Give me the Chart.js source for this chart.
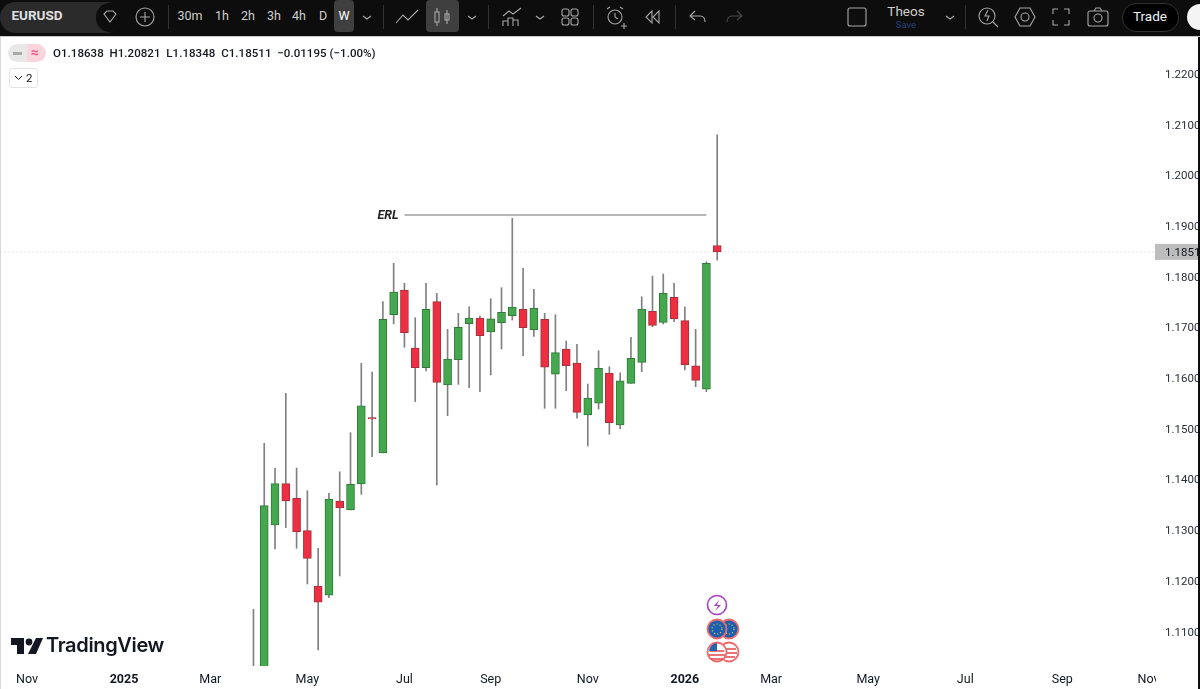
<!DOCTYPE html>
<html>
<head>
<meta charset="utf-8">
<title>EURUSD W</title>
<script src="https://cdn.jsdelivr.net/npm/chart.js@4"></script>
<style>
  html, body { margin: 0; padding: 0; background: #fff; overflow: hidden; }
  body { position: relative; width: 1200px; height: 689px; font-family: Roboto, sans-serif; filter: blur(.35px); }
  #bar { position: absolute; left: 0; top: 0; width: 1200px; height: 36px; background: #0d0d0d; border-bottom: 1px solid #c8c8c8; color: #cfcfcf; }
  #bar span, #bar i, #bar svg { position: absolute; }
  #bar span { font-size: 12.5px; top: 8px; transform: translateX(-50%); }
  #bar svg { top: 5px; width: 24px; height: 24px; fill: none; stroke: #a8a8a8; stroke-width: 1.1; }
  #bar i { background: #3f3f3f; border-radius: 4px; top: 0; height: 32px; }
  #bar b { position: absolute; top: 5px; width: 1px; height: 24px; background: #333; }
  #wrap { position: absolute; left: 0; top: 37px; width: 1198px; height: 652px; }
  #edge { position: absolute; left: 1198px; top: 37px; width: 2px; height: 652px; background: #0d0d0d; }
  #left { position: absolute; left: 0; top: 37px; width: 1px; height: 652px; background: #d8d8d8; }
  .abs { position: absolute; }
  #ohlc { left: 53px; top: 46px; font-size: 11.5px; font-weight: 500; color: #131722; white-space: nowrap; letter-spacing: .05px; }
  #pill { left: 8px; top: 44px; width: 38px; height: 18px; border-radius: 9px; background: linear-gradient(90deg, #e8e8e8 50%, #fbd5de 50%); color: #f0577f; font-size: 14px; font-weight: 700; line-height: 17px; text-indent: 23px; }
  #pill::before { content: ''; position: absolute; left: 5px; top: 8px; width: 9px; height: 3px; background: #a8a8a8; }
  #fold { left: 9px; top: 68px; width: 27px; height: 18px; border: 1px solid #e4e4e4; border-radius: 3px; font-size: 11.5px; line-height: 18px; color: #131722; text-indent: 16px; }
  #logoText { left: 46px; top: 633px; font-family: Inter, sans-serif; font-size: 20px; font-weight: 600; color: #131722; letter-spacing: -.35px; }
</style>
</head>
<body>
<div id="bar">
  <i style="left:0;top:2px;width:122px;height:31px;border-radius:16px;background:#2b2b2b"></i>
  <i style="left:96px;top:3px;width:28px;height:29px;border-radius:15px;background:#0d0d0d"></i>
  <span style="left:37px;font-weight:700;font-size:13.5px;top:7px;color:#e0e0e0">EURUSD</span>
  <svg style="left:98px" viewBox="0 0 24 24"><path d="M6 9l3-3h6l3 3-6 8z"/></svg>
  <svg style="left:133px" viewBox="0 0 24 24"><circle cx="12" cy="12" r="9"/><path d="M12 7v10M7 12h10"/></svg>
  <b style="left:168px"></b>
  <span style="left:190px">30m</span><span style="left:222px">1h</span><span style="left:248px">2h</span>
  <span style="left:274px">3h</span><span style="left:299px">4h</span><span style="left:323px">D</span>
  <i style="left:334px;width:20px"></i><span style="left:344px;color:#fff">W</span>
  <svg style="left:355px" viewBox="0 0 24 24"><path d="M8 11l4 3 4-3"/></svg>
  <b style="left:383px"></b>
  <svg style="left:395px" viewBox="0 0 24 24"><path d="M1 18l7-8 5 5 10-10"/></svg>
  <i style="left:426px;width:33px"></i>
  <svg style="left:430px" viewBox="0 0 24 24"><rect x="5" y="7" width="4" height="10"/><path d="M7 3v4M7 17v4M17 5v14"/><rect x="15" y="9" width="4" height="6"/></svg>
  <svg style="left:460px" viewBox="0 0 24 24"><path d="M8 11l4 3 4-3"/></svg>
  <b style="left:488px"></b>
  <svg style="left:500px" viewBox="0 0 24 24"><path d="M3 11l6-5 4 3 8-6M3 21v-5h5v5M8 21v-8h5v8M13 21v-6h5v6"/></svg>
  <svg style="left:528px" viewBox="0 0 24 24"><path d="M8 11l4 3 4-3"/></svg>
  <svg style="left:558px" viewBox="0 0 24 24"><rect x="4" y="4" width="7" height="7" rx="2"/><rect x="13" y="4" width="7" height="7" rx="2"/><rect x="4" y="13" width="7" height="7" rx="2"/><rect x="13" y="13" width="7" height="7" rx="2"/></svg>
  <b style="left:593px"></b>
  <svg style="left:604px" viewBox="0 0 24 24"><circle cx="11" cy="12" r="7"/><path d="M11 8v4l3 2M3 4l3-2M16 2l3 2M17 21h6M20 18v6"/></svg>
  <svg style="left:641px" viewBox="0 0 24 24"><path d="M11 6l-6 6 6 6zM18 6l-6 6 6 6z"/></svg>
  <b style="left:675px"></b>
  <svg style="left:686px" viewBox="0 0 24 24"><path d="M9 6l-5 5 5 4M4 11h10c3 0 5 2 5 6"/></svg>
  <svg style="left:722px;stroke:#4a4a4a" viewBox="0 0 24 24"><path d="M15 6l5 5-5 4M20 11H10c-3 0-5 2-5 6"/></svg>
  <svg style="left:845px" viewBox="0 0 24 24"><rect x="3" y="3" width="18" height="18" rx="2"/></svg>
  <span style="left:906px;top:3px;font-size:13.5px">Theos</span>
  <span style="left:906px;top:19px;font-size:9.5px;color:#26417f">Save</span>
  <svg style="left:938px" viewBox="0 0 24 24"><path d="M8 11l4 3 4-3"/></svg>
  <b style="left:965px"></b>
  <svg style="left:976px" viewBox="0 0 24 24"><circle cx="11" cy="11" r="8"/><path d="M17 17l5 5M12 5l-3 6h4l-2 5"/></svg>
  <svg style="left:1013px" viewBox="0 0 24 24"><path d="M7 3h10l5 9-5 9H7l-5-9z"/><circle cx="12" cy="12" r="4"/></svg>
  <svg style="left:1049px" viewBox="0 0 24 24"><path d="M4 9V4h5M15 4h5v5M20 15v5h-5M9 20H4v-5"/></svg>
  <svg style="left:1086px" viewBox="0 0 24 24"><rect x="2" y="6" width="20" height="15" rx="2"/><circle cx="12" cy="13" r="4"/><path d="M8 6l2-3h4l2 3"/></svg>
  <i style="left:1122px;top:3px;width:55px;height:27px;border-radius:14px;background:#000;border:1px solid #333"></i>
  <span style="left:1150px;color:#f2f2f2;font-weight:400;font-size:13.5px">Trade</span>
  <i style="left:1187px;top:4px;width:26px;height:26px;border-radius:13px;background:#f4f4f4"></i>
</div>

<div id="wrap"><canvas id="chart" width="1198" height="652"></canvas></div>
<div id="edge"></div>
<div id="left"></div>

<div id="pill" class="abs">≈</div>
<div id="ohlc" class="abs">O1.18638&nbsp; H1.20821&nbsp; L1.18348&nbsp; C1.18511&nbsp; −0.01195 (−1.00%)</div>
<div id="fold" class="abs">2<svg style="position:absolute;left:4px;top:6px" width="9" height="6" viewBox="0 0 9 6" fill="none" stroke="#131722"><path d="M1 1l3.5 3.5L8 1"/></svg></div>

<svg class="abs" style="left:11px;top:637px" width="32" height="18" viewBox="0 0 32 18" fill="#131722"><path d="M0 1h13v16H6V8H0z"/><circle cx="18" cy="5" r="3.4"/><path d="M25 1h7l-7 16h-8z"/></svg>
<div id="logoText" class="abs">TradingView</div>

<svg class="abs" style="left:703px;top:594px" width="40" height="74" viewBox="0 0 40 74">
  <circle cx="14" cy="11" r="9.5" fill="#fff" stroke="#a63fc4" stroke-width="1.6"/>
  <path d="M16 6l-5 6h4l-3 5 6-6h-4z" fill="#a63fc4"/>
  <circle cx="26" cy="35" r="9.5" fill="#1c5fb0" stroke="#ef6a6a" stroke-width="1.8"/>
  <circle cx="26" cy="35" r="5" fill="none" stroke="#d8c24a" stroke-width="1.2" stroke-dasharray="1.2 2"/>
  <circle cx="14" cy="35" r="9.5" fill="#1c5fb0" stroke="#ef6a6a" stroke-width="1.8"/>
  <circle cx="14" cy="35" r="5" fill="none" stroke="#d8c24a" stroke-width="1.2" stroke-dasharray="1.2 2"/>
  <circle cx="26" cy="58" r="9.5" fill="#fff" stroke="#ef6a6a" stroke-width="1.8"/>
  <path d="M20 55h13M19 59h15M21 63h11" stroke="#e04848" stroke-width="1.6"/>
  <circle cx="14" cy="58" r="9.5" fill="#fff" stroke="#ef6a6a" stroke-width="1.8"/>
  <path d="M7 57h14M6 61h16M8 65h12" stroke="#e04848" stroke-width="1.6"/>
  <path d="M6 57a8.5 8.5 0 0 1 8-8v8z" fill="#2a62ad"/>
</svg>

<script>
// ── Data (EURUSD weekly) ──
const opens  = [1.0950,1.1010,1.13124,1.13939,1.13651,1.13012,1.11921,1.11738,1.13598,1.13420,1.13933,1.15241,1.14544,1.17272,1.17759,1.16615,1.16227,1.17529,1.15886,1.16385,1.17095,1.17207,1.16931,1.17114,1.17252,1.17379,1.16976,1.17181,1.16097,1.16596,1.16319,1.15294,1.15525,1.16122,1.15097,1.15919,1.16333,1.17339,1.17122,1.17615,1.17154,1.16266,1.15801,1.18638];
const highs  = [1.11462,1.14736,1.14243,1.15722,1.14248,1.13801,1.12665,1.13749,1.14175,1.14945,1.16314,1.16142,1.17529,1.18286,1.17892,1.17213,1.17892,1.17694,1.16984,1.17300,1.17430,1.17247,1.17588,1.17805,1.19174,1.18187,1.17773,1.17300,1.17272,1.16753,1.16688,1.15905,1.16562,1.16247,1.16128,1.16826,1.17627,1.18035,1.18075,1.17892,1.17430,1.16984,1.18318,1.20821];
const lows   = [1.0900,1.0990,1.12651,1.13071,1.12665,1.11960,1.10659,1.11690,1.12118,1.13420,1.13730,1.14471,1.14544,1.17089,1.16629,1.15556,1.16162,1.13913,1.15280,1.15899,1.15832,1.15753,1.16083,1.16596,1.17168,1.16464,1.16846,1.15426,1.15426,1.15773,1.15229,1.14682,1.15412,1.14913,1.15024,1.15919,1.16148,1.17036,1.17089,1.17134,1.16181,1.15852,1.15753,1.18348];
const closes = [1.0920,1.13505,1.13939,1.13598,1.12992,1.12467,1.11600,1.13637,1.13460,1.13927,1.15477,1.15215,1.17181,1.17720,1.16917,1.16227,1.17379,1.15939,1.16398,1.17024,1.17207,1.16858,1.17193,1.17320,1.17424,1.17016,1.17398,1.16235,1.16523,1.16266,1.15347,1.15629,1.16215,1.15142,1.15970,1.16412,1.17385,1.17063,1.17694,1.17187,1.16286,1.15978,1.18286,1.18511];

const priceTicks = [1.22,1.21,1.20,1.19,1.18,1.17,1.16,1.15,1.14,1.13,1.12,1.11];
const timeLabels = ['Nov','2025','Mar','May','Jul','Sep','Nov','2026','Mar','May','Jul','Sep','Nov'];
const timeSlots  = [2,11,19,28,37,45,54,63,71,80,89,98,106];
const weekCount   = 107;
const firstCandle = 23;

const erlLabel = 'ERL';
const erlPrice = 1.19239;
const erlFrom  = 37;
const erlTo    = 65;

// ── Build what the library needs ──
const weeks = Array(weekCount).fill('');
timeSlots.forEach((s, i) => { weeks[s] = timeLabels[i]; });

const pad = Array(firstCandle).fill(null);
const wickData = pad.concat(opens.map((o, i) => [lows[i], highs[i]]));
const bodyData = pad.concat(opens.map((o, i) => [o, closes[i]]));
const isDown = opens.map((o, i) => closes[i] < o);
const bodyFill   = pad.concat(isDown.map(d => d ? '#ee2e41' : '#45a84f'));
const bodyBorder = pad.concat(isDown.map(d => d ? '#a3303c' : '#2f7a3a'));
const erlData = weeks.map((w, i) => (i === erlFrom || i === erlTo) ? erlPrice : null);

const overlay = {
  id: 'overlay',
  beforeDatasetsDraw(c) {
    // last price line
    const last = closes[closes.length - 1];
    const y = c.scales.y.getPixelForValue(last);
    const ctx = c.ctx;
    ctx.save();
    ctx.strokeStyle = '#e6e6e6';
    ctx.setLineDash([2, 2]);
    ctx.beginPath();
    ctx.moveTo(0, y);
    ctx.lineTo(1155, y);
    ctx.stroke();
    ctx.restore();
  },
  afterDraw(c) {
    const ctx = c.ctx;
    const last = closes[closes.length - 1];
    const y = c.scales.y.getPixelForValue(last);
    ctx.save();
    // last price tag
    ctx.fillStyle = '#bdbdbd';
    ctx.fillRect(1155, y - 8, 43, 16);
    ctx.fillStyle = '#131722';
    ctx.font = '11.5px Roboto';
    ctx.textBaseline = 'middle';
    ctx.fillText(last.toFixed(4), 1165, y + 1);
    // ERL label
    ctx.font = 'italic bold 12.5px Roboto';
    ctx.fillStyle = '#222';
    ctx.fillText(erlLabel, c.scales.x.getPixelForValue(erlFrom) - 27, c.scales.y.getPixelForValue(erlPrice) + 0.5);
    // the time scale gets cut off by the price scale
    ctx.fillStyle = '#fff';
    ctx.fillRect(1156, c.chartArea.bottom + 1, 42, 22);
    ctx.restore();
  }
};

new Chart(document.getElementById('chart').getContext('2d'), {
  data: {
    labels: weeks,
    datasets: [
      { type: 'line', data: erlData, spanGaps: true, borderColor: '#6f6f6f', borderWidth: 1, pointRadius: 0, order: 0 },
      { type: 'bar', data: bodyData, backgroundColor: bodyFill, borderColor: bodyBorder, borderWidth: 1, borderSkipped: false, barThickness: 8, grouped: false, order: 1 },
      { type: 'bar', data: wickData, backgroundColor: '#808080', borderWidth: 0, barThickness: 1, grouped: false, order: 2 }
    ]
  },
  plugins: [overlay],
  options: {
    responsive: false,
    animation: false,
    layout: { padding: 0 },
    plugins: { legend: { display: false }, tooltip: { enabled: false } },
    scales: {
      x: {
        type: 'category',
        grid: { display: false, drawTicks: false },
        border: { display: false },
        afterFit: s => { s.height = 23; s.paddingLeft = 0; s.paddingRight = 0; },
        ticks: {
          autoSkip: false,
          maxRotation: 0,
          padding: 6,
          color: '#131722',
          font: ctx => ({ family: 'Roboto', size: 12.5, weight: /^\d/.test(ctx.tick.label) ? '700' : '400' })
        }
      },
      y: {
        position: 'right',
        min: 1.10343,
        max: 1.2275,
        grid: { display: false, drawTicks: false },
        border: { display: false },
        afterFit: s => { s.width = 44; s.paddingTop = 0; s.paddingBottom = 0; },
        afterBuildTicks: s => { s.ticks = priceTicks.map(v => ({ value: v })); },
        ticks: {
          padding: 11,
          color: '#2a2e39',
          font: { family: 'Roboto', size: 11.5 },
          callback: v => v.toFixed(5)
        }
      }
    }
  }
});
</script>
</body>
</html>
